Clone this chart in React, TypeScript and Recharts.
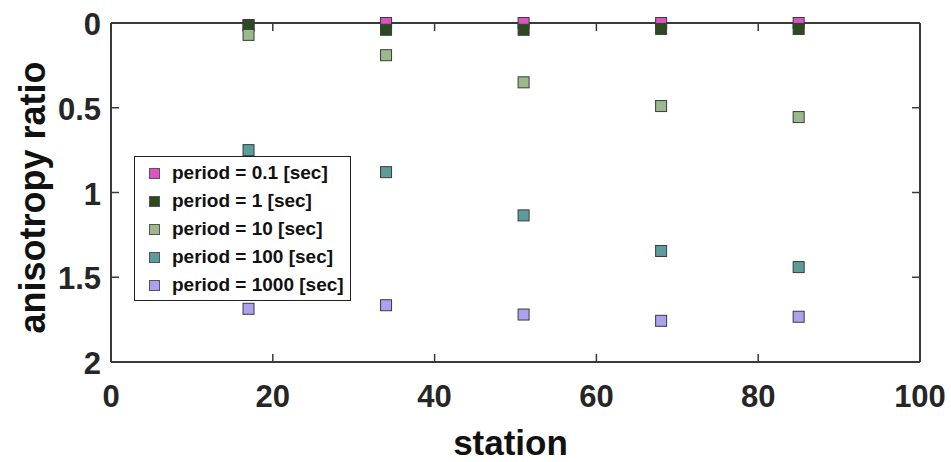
import React from 'react'
import {
  ScatterChart,
  Scatter,
  XAxis,
  YAxis,
  Legend,
  Label
} from 'recharts'

const stations = [17, 34, 51, 68, 85]
const ratio01 = [0.012, 0.0, 0.0, 0.0, 0.0]
const ratio1 = [0.015, 0.04, 0.04, 0.035, 0.035]
const ratio10 = [0.07, 0.19, 0.35, 0.49, 0.555]
const ratio100 = [0.75, 0.88, 1.135, 1.345, 1.44]
const ratio1000 = [1.686, 1.665, 1.72, 1.757, 1.733]

const xTicks = [0, 20, 40, 60, 80, 100]
const yTicks = [0, 0.5, 1, 1.5, 2]
const yTickLabels = ['0', '0.5', '1', '1.5', '2']

const series = [
  { name: 'period = 0.1 [sec]', values: ratio01, color: '#de52c4' },
  { name: 'period = 1 [sec]', values: ratio1, color: '#2c4a1f' },
  { name: 'period = 10 [sec]', values: ratio10, color: '#9cb98e' },
  { name: 'period = 100 [sec]', values: ratio100, color: '#5c9c9b' },
  { name: 'period = 1000 [sec]', values: ratio1000, color: '#aaa2f0' }
]

const toPoints = (values: number[]) =>
  stations.map((s, i) => ({ station: s, ratio: values[i] }))

const FONT = '"Liberation Sans", Arial, sans-serif'
const AXIS = '#3a3a3a'
const TICK_LEN = 8

const Square = (props: any) => {
  const { cx, cy, fill } = props
  if (cx == null || cy == null) return null
  return (
    <rect x={cx - 5.5} y={cy - 5.5} width={11} height={11} fill={fill}
      stroke='#3b3b3b' strokeWidth={1} />
  )
}

// bottom/left: tickSize is negative so the tick line points into the plot,
// the label is pushed back out by the same amount
const BottomTick = (props: any) => {
  const { x, y, payload } = props
  return (
    <text x={x} y={y + TICK_LEN + 45} textAnchor='middle' fontFamily={FONT}
      fontWeight='bold' fontSize={31} fill='#262626'>
      {payload.value}
    </text>
  )
}

const LeftTick = (props: any) => {
  const { x, y, payload, index } = props
  return (
    <text x={x - TICK_LEN - 10} y={y + 12} textAnchor='end' fontFamily={FONT}
      fontWeight='bold' fontSize={31} fill='#262626'>
      {yTickLabels[index] ?? payload.value}
    </text>
  )
}

const TopTick = (props: any) => {
  const { x, y } = props
  return <path d={`M${x},${y}V${y + TICK_LEN}`} stroke={AXIS} strokeWidth={1.5} fill='none' />
}

const RightTick = (props: any) => {
  const { x, y } = props
  return <path d={`M${x},${y}H${x - TICK_LEN}`} stroke={AXIS} strokeWidth={1.5} fill='none' />
}

const LegendBox = () => (
  <div style={{
    border: '1.5px solid #222',
    background: '#fff',
    padding: '2px 6px 1px 14px',
    fontFamily: FONT,
    fontWeight: 'bold',
    fontSize: 19,
    color: '#111'
  }}>
    {series.map((s) => (
      <div key={s.name} style={{ display: 'flex', alignItems: 'center', height: 28 }}>
        <span style={{
          display: 'inline-block', width: 9, height: 9, background: s.color,
          border: '1px solid #555', marginRight: 12
        }} />
        <span>{s.name}</span>
      </div>
    ))}
  </div>
)

const App: React.FC = () => {
  return (
    <div style={{ position: 'absolute', left: 0, top: 0 }}>
      <ScatterChart width={951} height={462}
        margin={{ top: 22, right: 30, bottom: 40, left: 31 }}>
        <XAxis xAxisId='bottom' type='number' dataKey='station' domain={[0, 100]}
          ticks={xTicks} height={60} tickSize={-TICK_LEN} tickMargin={0}
          tickLine={{ stroke: AXIS, strokeWidth: 1.5 }}
          axisLine={{ stroke: AXIS, strokeWidth: 2 }} tick={<BottomTick />}>
          <Label content={(p: any) => {
            const vb = p.viewBox
            return (
              <text x={vb.x + vb.width / 2 - 5} y={vb.y + 93} textAnchor='middle'
                fontFamily={FONT} fontWeight='bold' fontSize={35} fill='#111'>
                station
              </text>
            )
          }} />
        </XAxis>
        <XAxis xAxisId='top' orientation='top' type='number' dataKey='station'
          domain={[0, 100]} ticks={xTicks} height={1} tickSize={0} tickMargin={0}
          tickLine={false} axisLine={{ stroke: AXIS, strokeWidth: 2 }} tick={<TopTick />} />
        <YAxis yAxisId='left' type='number' dataKey='ratio' reversed domain={[0, 2]}
          ticks={yTicks} width={80} tickSize={-TICK_LEN} tickMargin={0}
          tickLine={{ stroke: AXIS, strokeWidth: 1.5 }}
          axisLine={{ stroke: AXIS, strokeWidth: 2 }} tick={<LeftTick />}>
          <Label content={(p: any) => {
            const vb = p.viewBox
            const cx = vb.x + 14
            const cy = vb.y + vb.height / 2 + 5
            return (
              <text x={cx} y={cy} transform={`rotate(-90 ${cx} ${cy})`} textAnchor='middle'
                fontFamily={FONT} fontWeight='bold' fontSize={36} fill='#111'>
                anisotropy ratio
              </text>
            )
          }} />
        </YAxis>
        <YAxis yAxisId='right' orientation='right' type='number' dataKey='ratio'
          reversed domain={[0, 2]} ticks={yTicks} width={1} tickSize={0} tickMargin={0}
          tickLine={false} axisLine={{ stroke: AXIS, strokeWidth: 2 }} tick={<RightTick />} />
        <Legend layout='horizontal' verticalAlign='middle' content={<LegendBox />}
          wrapperStyle={{ position: 'absolute', left: 134, top: 156, width: 'auto' }} />
        {series.map((s) => (
          <Scatter key={s.name} name={s.name} data={toPoints(s.values)}
            xAxisId='bottom' yAxisId='left' fill={s.color}
            shape={<Square />} isAnimationActive={false} />
        ))}
        <Scatter data={toPoints(ratio01)} xAxisId='top' yAxisId='right'
          legendType='none' shape={() => null} isAnimationActive={false} />
      </ScatterChart>
    </div>
  )
}

export default App
